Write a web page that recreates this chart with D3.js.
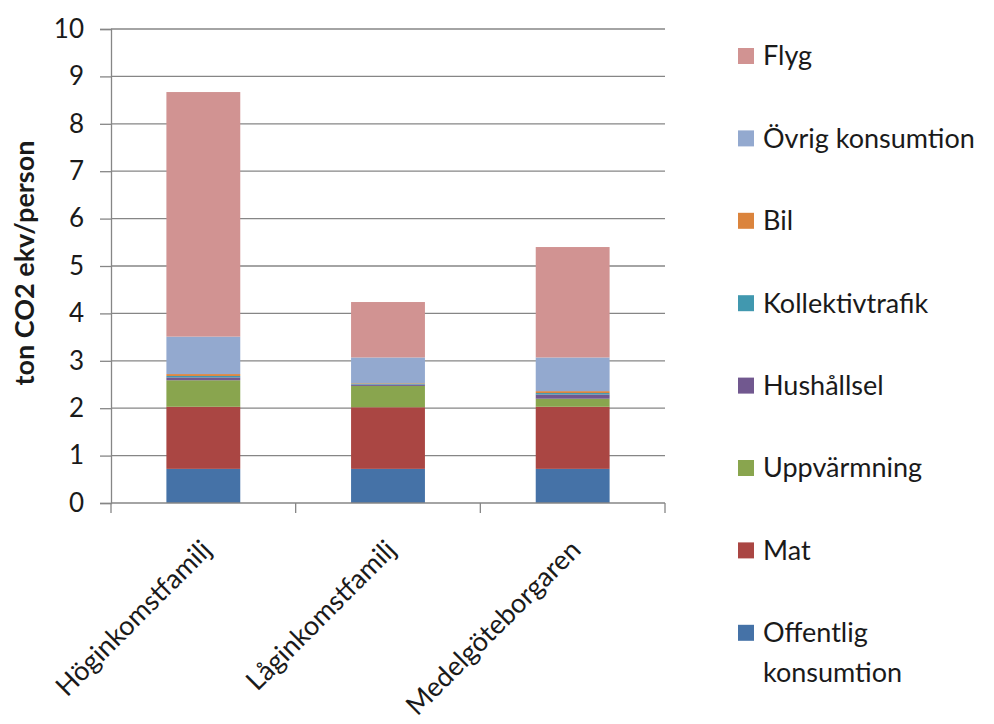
<!DOCTYPE html>
<html><head><meta charset="utf-8">
<script src="https://cdn.jsdelivr.net/npm/d3@7"></script>
<style>body{margin:0;background:#fff}svg{display:block}text{font-family:Lato,"Open Sans",sans-serif;fill:#1a1a1a}</style>
</head><body><svg id="c" width="994" height="724"></svg>
<script>
const categories = ["Höginkomstfamilj","Låginkomstfamilj","Medelgöteborgaren"];
const seriesNames = ["Offentlig konsumtion","Mat","Uppvärmning","Hushållsel","Kollektivtrafik","Bil","Övrig konsumtion","Flyg"];
const offentlig = [0.72,0.72,0.72];
const mat = [1.31,1.30,1.31];
const uppvarmning = [0.56,0.45,0.17];
const hushallsel = [0.06,0.03,0.09];
const kollektivtrafik = [0.03,0.02,0.03];
const bil = [0.04,0.01,0.04];
const ovrig = [0.79,0.54,0.71];
const flyg = [5.16,1.17,2.33];
const yTicks = [0,1,2,3,4,5,6,7,8,9,10];
const colors = ["#4572A7","#AA4643","#89A54E","#71588F","#4198AF","#DB843D","#93A9CF","#D19392"];

const seriesValues = [offentlig,mat,uppvarmning,hushallsel,kollektivtrafik,bil,ovrig,flyg];
const rows = categories.map((c,i)=>{const r={cat:c};seriesNames.forEach((s,j)=>r[s]=seriesValues[j][i]);return r;});
const stack = d3.stack().keys(seriesNames)(rows);

const svg = d3.select("#c");
const L=111,R=665,T=29,B=503;
const x = d3.scaleBand().domain(categories).range([L,R]).paddingInner(0.6).paddingOuter(0.3);
const xc = d3.scaleBand().domain(categories).range([L,R]);
const y = d3.scaleLinear().domain([0,10]).range([B,T]);

// gridlines
svg.append("g").selectAll("line").data(yTicks.filter(d=>d>0)).join("line")
  .attr("x1",L).attr("x2",R).attr("y1",d=>y(d)).attr("y2",d=>y(d))
  .attr("stroke","#868686").attr("stroke-width",1.3);

// bars
svg.append("g").selectAll("g").data(stack).join("g").attr("fill",(d,i)=>colors[i])
  .selectAll("rect").data(d=>d).join("rect")
  .attr("x",d=>x(d.data.cat)).attr("width",x.bandwidth())
  .attr("y",d=>y(d[1])).attr("height",d=>y(d[0])-y(d[1]));

// y axis
const ya = svg.append("g").attr("transform",`translate(${L},0)`)
  .call(d3.axisLeft(y).tickValues(yTicks).tickSize(11).tickPadding(16));
ya.select(".domain").attr("stroke","#868686").attr("stroke-width",1.3);
ya.selectAll(".tick line").attr("stroke","#868686").attr("stroke-width",1.3);
ya.selectAll(".tick text").attr("font-size",26).attr("font-family","Lato,sans-serif").attr("fill","#1a1a1a");

// x axis
const xa = svg.append("g").attr("transform",`translate(0,${B})`);
xa.append("line").attr("x1",L).attr("x2",R).attr("stroke","#868686").attr("stroke-width",1.3);
const bounds = categories.map(c=>xc(c)).concat([R]);
xa.selectAll("line.t").data(bounds).join("line").attr("class","t")
  .attr("x1",d=>d).attr("x2",d=>d).attr("y1",0).attr("y2",10)
  .attr("stroke","#868686").attr("stroke-width",1.3);
xa.selectAll("text").data(categories).join("text")
  .attr("transform",d=>`translate(${x(d)+x.bandwidth()/2+3},42) rotate(-45)`)
  .attr("text-anchor","end").attr("font-size",27).attr("dy","0.35em").text(d=>d);

// y title
svg.append("text").attr("transform","translate(34,263) rotate(-90)")
  .attr("text-anchor","middle").attr("font-size",27).attr("font-weight","bold")
  .text("ton CO2 ekv/person");

// legend
const legendOrder = seriesNames.map((s,i)=>({s,c:colors[i]})).reverse();
const lg = svg.append("g");
const ly0 = 56, ldy = 82.4;
legendOrder.forEach((d,i)=>{
  const yy = ly0 + i*ldy;
  lg.append("rect").attr("x",738).attr("y",yy-8).attr("width",16).attr("height",16).attr("fill",d.c);
  if(d.s==="Offentlig konsumtion"){
    lg.append("text").attr("x",763).attr("y",yy).attr("dy","0.35em").attr("font-size",27).text("Offentlig");
    lg.append("text").attr("x",763).attr("y",yy+40).attr("dy","0.35em").attr("font-size",27).text("konsumtion");
  } else {
    lg.append("text").attr("x",763).attr("y",yy).attr("dy","0.35em").attr("font-size",27).text(d.s);
  }
});
</script></body></html>
